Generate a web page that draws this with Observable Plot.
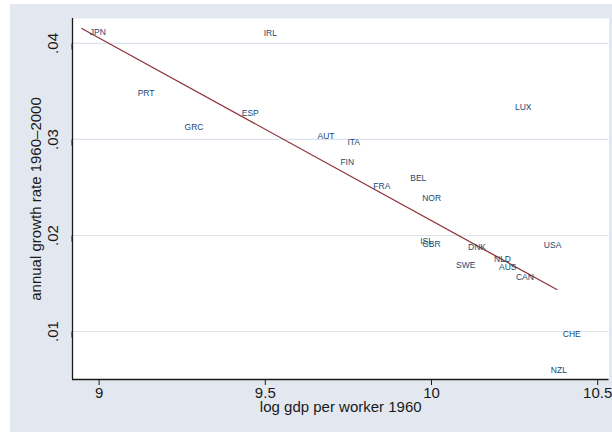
<!DOCTYPE html>
<html>
<head>
<meta charset="utf-8">
<script src="https://cdn.jsdelivr.net/npm/d3@7"></script>
<script src="https://cdn.jsdelivr.net/npm/@observablehq/plot@0.6"></script>
<style>
  html, body { margin: 0; padding: 0; background: #ffffff; }
  #wrap { position: relative; width: 612px; height: 436px; overflow: hidden; }
  #panel { position: absolute; left: 10px; top: 4px; right: 0; bottom: 4px; background: #E3E8F0; }
  #chart { position: absolute; left: 0; top: 0; }
</style>
</head>
<body>
<div id="wrap"><div id="panel"></div><div id="chart"></div></div>
<script>
// Country codes, log GDP per worker in 1960, and annual growth 1960–2000
const codes = ["JPN","IRL","PRT","GRC","ESP","AUT","ITA","FIN","FRA","BEL","NOR","ISL","GBR","DNK","USA","SWE","NLD","AUS","CAN","CHE","NZL","LUX"];
const logGdp1960 = [8.957, 9.480, 9.101, 9.242, 9.414, 9.642, 9.732, 9.711, 9.810, 9.921, 9.957, 9.951, 9.957, 10.095, 10.323, 10.059, 10.173, 10.188, 10.239, 10.380, 10.344, 10.236];
const growth = [0.04118, 0.04104, 0.03479, 0.03125, 0.03271, 0.03031, 0.02969, 0.02760, 0.02510, 0.02594, 0.02385, 0.01938, 0.01906, 0.01875, 0.01896, 0.01688, 0.01750, 0.01667, 0.01563, 0.00969, 0.00594, 0.03333];

// Fitted values at the ends of the x range
const fitX = [8.948, 10.377];
const fitY = [0.04156, 0.01437];

// Axis ticks
const xTicks = [9, 9.5, 10, 10.5];
const yTicks = [0.01, 0.02, 0.03, 0.04];

const xDomain = [8.92, 10.534];
const yDomain = [0.005, 0.0426];

const points = codes.map((c, i) => ({code: c, x: logGdp1960[i], y: growth[i]}));
const fit = fitX.map((x, i) => ({x, y: fitY[i]}));

const font = "Liberation Sans, Arial, sans-serif";
const ink = "#1a1a1a";

const chart = Plot.plot({
  width: 612,
  height: 436,
  marginLeft: 72,
  marginRight: 3.5,
  marginTop: 18,
  marginBottom: 57,
  style: {background: "transparent", fontFamily: font},
  x: {domain: xDomain},
  y: {domain: yDomain},
  marks: [
    Plot.frame({fill: "white", stroke: "none"}),
    Plot.gridY(yTicks, {stroke: "#DCE3EC", strokeOpacity: 1, strokeWidth: 1.2}),
    Plot.ruleX([xDomain[0]], {stroke: ink, strokeWidth: 1.3}),
    Plot.ruleY([yDomain[0]], {stroke: ink, strokeWidth: 1.3}),
    Plot.axisX(xTicks, {
      tickSize: 6, tickPadding: 2, fontSize: 15, fill: ink, stroke: ink,
      tickFormat: d => String(d), label: null
    }),
    Plot.axisY(yTicks, {
      tickSize: 6, tickPadding: 13, fontSize: 15, fill: ink, stroke: ink,
      rotate: -90, textAnchor: "middle",
      tickFormat: d => d3.format(".2f")(d).replace(/^0/, ""), label: null
    }),
    Plot.text(["log gdp per worker 1960"], {
      frameAnchor: "bottom", textAnchor: "middle", lineAnchor: "middle",
      dy: 28, fontSize: 15, fill: ink
    }),
    Plot.text(["annual growth rate 1960–2000"], {
      frameAnchor: "left", textAnchor: "middle", lineAnchor: "middle",
      dx: -36, rotate: -90, fontSize: 15, fill: ink
    }),
    Plot.line(fit, {x: "x", y: "y", stroke: "#90353B", strokeWidth: 1.3}),
    Plot.text(points, {
      x: "x", y: "y", text: "code", textAnchor: "start", dx: 5,
      fontSize: 8.5, fill: "#1A476F"
    })
  ]
});

document.getElementById("chart").appendChild(chart);
</script>
</body>
</html>
